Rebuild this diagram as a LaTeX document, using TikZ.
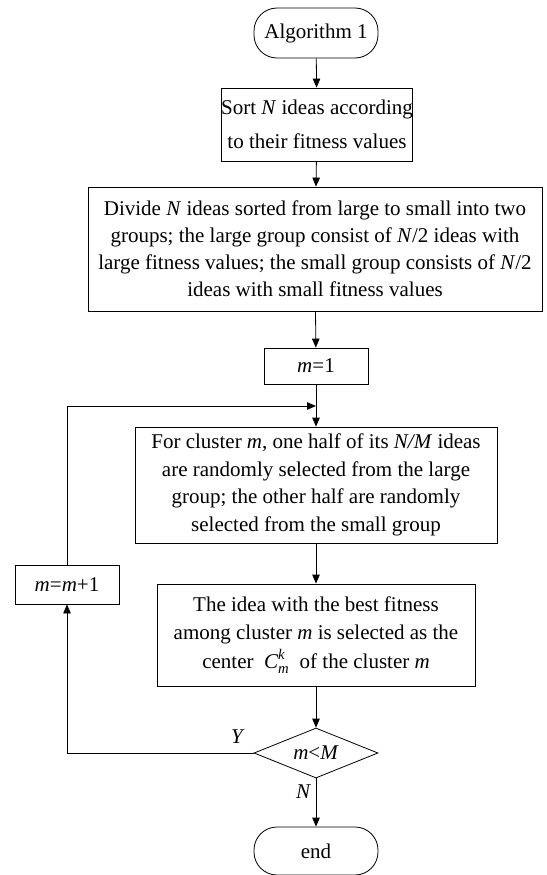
\documentclass[tikz,border=0pt]{standalone}
\usepackage{amsmath}
\usepackage{fontspec}
\setmainfont{Liberation Serif}
\usetikzlibrary{arrows.meta,shapes.geometric}
\begin{document}
\begin{tikzpicture}[x=1pt,y=-1pt,
  line width=0.8pt,
  font=\fontsize{21}{27}\selectfont,
  box/.style={draw, rectangle, inner sep=0pt, align=center},
  term/.style={draw, rectangle, rounded corners=23pt, inner sep=0pt, minimum width=124pt, minimum height=48pt},
  dec/.style={draw, diamond, inner sep=0pt, aspect=2.48, minimum width=124pt, minimum height=50pt},
  arr/.style={-{Triangle[length=9pt,width=7.5pt]}},
  lbl/.style={inner sep=0pt, font=\fontsize{21}{27}\selectfont\itshape}]
\useasboundingbox (0,0) rectangle (546,875);

\node[term, minimum height=50pt] (start) at (316,33) {Algorithm 1};
\node[box, minimum width=162pt, minimum height=73pt, font=\fontsize{21}{34}\selectfont] (sort) at (317,124.5)
  {Sort \textit{N} ideas according\\to their fitness values};
\node[box, minimum width=454pt, minimum height=124pt] (divide) at (315,249)
  {Divide \textit{N} ideas sorted from large to small into two\\
   groups; the large group consist of \textit{N}/2 ideas with\\
   large fitness values; the small group consists of \textit{N}/2\\
   ideas with small fitness values};
\node[box, minimum width=104pt, minimum height=36pt] (init) at (316,366) {\textit{m}=1};
\coordinate (join) at (316,406);
\node[box, minimum width=362pt, minimum height=116pt, font=\fontsize{21}{27.5}\selectfont] (assign) at (316,485)
  {For cluster \textit{m}, one half of its \textit{N/M} ideas\\
   are randomly selected from the large\\
   group; the other half are randomly\\
   selected from the small group};
\node[box, minimum width=318pt, minimum height=102pt, font=\fontsize{21}{28.5}\selectfont] (center) at (316,635)
  {The idea with the best fitness\\
   among cluster \textit{m} is selected as the\\
   center~ $\textit{C}_{\textit{m}}^{\textit{k}}$ ~of the cluster \textit{m}};
\node[box, minimum width=104pt, minimum height=39pt] (inc) at (67,584.5) {\textit{m}=\textit{m}+1};
\node[dec] (test) at (316,753) {\textit{m}<\textit{M}};
\node[term] (stop) at (316,851) {end};

\node[lbl] (ylab) at (237,737) {Y};
\node[lbl] (nlab) at (303,792) {N};

\draw[arr] (start) -- (sort);
\draw[arr] (sort) -- (divide);
\draw[arr] (divide) -- (init);
\draw[arr] (init) -- (assign);
\draw[arr] (assign) -- (center);
\draw[arr] (center) -- (test);
\draw[arr] (test) -- (stop);
\draw[arr] (test.west) -| (inc.south);
\draw[arr] (inc.north) |- (join);
\end{tikzpicture}
\end{document}
